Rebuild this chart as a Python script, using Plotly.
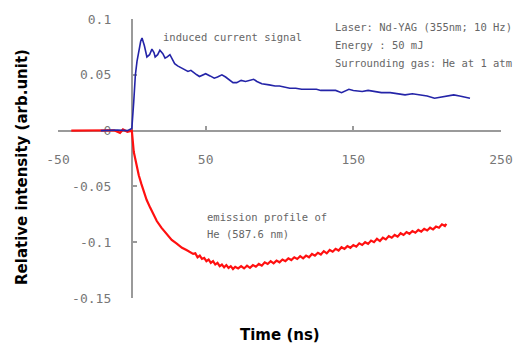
import plotly.graph_objects as go

# ---- data ----
blue_t = [-21, -10, -3, 0, 1.3, 2.4, 3.5, 4.7, 6, 6.9, 8.5, 10.2, 12, 13.6, 15, 15.8, 17.5, 19, 21, 22.5,
          24, 25.8, 27.5, 29, 31, 33.5, 36, 38, 40, 42.5, 44, 45.8, 48, 50, 53, 55.8, 58, 61, 63.5, 66,
          68.5, 71, 74, 77, 80, 82.5, 84.7, 88, 93, 97, 100, 104, 107, 111, 115, 120, 125, 128, 133, 138,
          142, 145, 147, 150, 156, 160, 165, 169, 175, 180, 185, 190, 195, 200, 205, 210, 214, 218, 222,
          226, 229]
blue_v = [0.0, 0.0005, 0.0, 0.002, 0.026, 0.05, 0.062, 0.072, 0.080, 0.083, 0.076, 0.066, 0.068, 0.073,
          0.070, 0.066, 0.068, 0.072, 0.069, 0.065, 0.066, 0.068, 0.064, 0.060, 0.058, 0.056, 0.054,
          0.053, 0.054, 0.051, 0.050, 0.0485, 0.050, 0.051, 0.049, 0.047, 0.048, 0.050, 0.048, 0.0455,
          0.043, 0.043, 0.045, 0.044, 0.045, 0.046, 0.044, 0.042, 0.041, 0.040, 0.040, 0.039, 0.038,
          0.038, 0.037, 0.037, 0.037, 0.036, 0.036, 0.036, 0.034, 0.036, 0.037, 0.036, 0.035, 0.036,
          0.035, 0.034, 0.034, 0.033, 0.032, 0.033, 0.032, 0.031, 0.029, 0.030, 0.031, 0.032, 0.031,
          0.030, 0.029]

red_t = [-41, -30, -20, -12, -8, -6, -3, -1, 0, 1.3, 3, 4.7, 6.5, 8, 10, 12.4, 14.5, 16.9, 20, 23.6,
         27, 30.2, 34, 37,
         40, 41.5, 43, 44.5, 46, 47.5, 49, 50.5, 52, 53.5, 55, 56.5, 58, 59.5, 61, 62.5, 64, 65.5, 67,
         68.5, 70, 72, 74, 76, 78, 80, 82, 84, 86, 88, 90, 92, 94, 96, 98, 100, 102, 104, 106, 108, 110,
         112, 114, 116, 118, 120, 122, 124, 126, 128, 130, 132, 134, 136, 138, 140, 142, 144, 146, 148,
         150, 152, 154, 156, 158, 160, 162, 164, 166, 168, 170, 172, 174, 176, 178, 180, 182, 184, 186,
         188, 190, 192, 194, 196, 198, 200, 202, 204, 206, 208, 210, 212, 213]
red_v = [0.0, 0.0, 0.0, 0.0003, -0.002, 0.001, -0.001, 0.0, 0.0, -0.019, -0.030, -0.040, -0.048, -0.054,
         -0.062, -0.069, -0.075, -0.081, -0.087, -0.093, -0.098, -0.101, -0.105, -0.107,
         -0.1095, -0.1105, -0.1100, -0.1135, -0.1120, -0.1150, -0.1140, -0.1170, -0.1155, -0.1185,
         -0.1170, -0.1200, -0.1185, -0.1215, -0.1200, -0.1225, -0.1205, -0.1230, -0.1215, -0.1240,
         -0.1220, -0.1235, -0.1215, -0.1235, -0.1210, -0.1230, -0.1205, -0.1220, -0.1195, -0.1210,
         -0.1180, -0.1195, -0.1170, -0.1190, -0.1165, -0.1180, -0.1155, -0.1170, -0.1145, -0.1160,
         -0.1135, -0.1150, -0.1125, -0.1145, -0.1120, -0.1135, -0.1105, -0.1120, -0.1095, -0.1110,
         -0.1080, -0.1100, -0.1070, -0.1085, -0.1060, -0.1075, -0.1045, -0.1060, -0.1035, -0.1050,
         -0.1025, -0.1040, -0.1010, -0.1025, -0.1000, -0.1015, -0.0985, -0.1000, -0.0970, -0.0990,
         -0.0960, -0.0975, -0.0945, -0.0960, -0.0935, -0.0950, -0.0920, -0.0935, -0.0910, -0.0925,
         -0.0900, -0.0915, -0.0890, -0.0905, -0.0880, -0.0895, -0.0870, -0.0885, -0.0860, -0.0870,
         -0.0840, -0.0855, -0.0835]

x_range = [-50, 250]
y_range = [-0.15, 0.1]
x_ticks = [-50, 50, 150, 250]
y_ticks = [-0.15, -0.1, -0.05, 0, 0.05, 0.1]
y_ticklabels = ["-0.15", "-0.1", "-0.05", "0", "0.05", "0.1"]

fig = go.Figure()
fig.add_trace(go.Scatter(x=red_t, y=red_v, mode="lines",
                         line=dict(color="#ff1010", width=2.2), showlegend=False))
fig.add_trace(go.Scatter(x=blue_t, y=blue_v, mode="lines",
                         line=dict(color="#2424a8", width=1.6), showlegend=False))

tickfont = dict(family="DejaVu Sans Mono", size=13, color="#777777")
x_pos = (0 - y_range[0]) / (y_range[1] - y_range[0])
y_pos = (0 - x_range[0]) / (x_range[1] - x_range[0])

fig.update_layout(
    width=525, height=347,
    margin=dict(l=58, r=17, t=16, b=49),
    paper_bgcolor="white", plot_bgcolor="white",
    xaxis=dict(range=x_range, tickvals=x_ticks, ticktext=[str(v) for v in x_ticks],
               anchor="free", position=x_pos, showgrid=False, zeroline=False,
               showline=True, linecolor="#9a9a9a", linewidth=2, layer="below traces",
               ticks="inside", ticklen=4, tickcolor="#9a9a9a", tickwidth=1.5,
               tickfont=tickfont, ticklabelstandoff=17),
    yaxis=dict(range=y_range, tickvals=y_ticks, ticktext=y_ticklabels,
               anchor="free", position=y_pos, showgrid=False, zeroline=False,
               showline=True, linecolor="#9a9a9a", linewidth=2, layer="below traces",
               ticks="inside", ticklen=4, tickcolor="#9a9a9a", tickwidth=1.5,
               tickfont=tickfont, ticklabelstandoff=17),
)

title_font = dict(family="DejaVu Sans", size=15, color="black")
fig.add_annotation(text="<b>Time (ns)</b>", xref="paper", yref="paper", x=0.5, y=-0.131,
                   showarrow=False, font=title_font, xanchor="center", yanchor="middle")
fig.add_annotation(text="<b>Relative intensity (arb.unit)</b>", xref="paper", yref="paper",
                   x=-0.08, y=0.468, textangle=-90, showarrow=False, font=title_font,
                   xanchor="center", yanchor="middle")

note_font = dict(family="DejaVu Sans Mono", size=10.5, color="#666666")
notes = [
    ("induced current signal", 20, 0.0838),
    ("Laser: Nd-YAG (355nm; 10 Hz)", 136, 0.0926),
    ("Energy : 50 mJ", 136, 0.0767),
    ("Surrounding gas: He at 1 atm", 136, 0.0608),
    ("emission profile of", 49.3, -0.0776),
    ("He (587.6 nm)", 49.3, -0.0926),
]
for txt, xx, yy in notes:
    fig.add_annotation(text=txt, x=xx, y=yy, xref="x", yref="y", showarrow=False,
                       font=note_font, xanchor="left", yanchor="middle")

fig.write_html("out.html")
